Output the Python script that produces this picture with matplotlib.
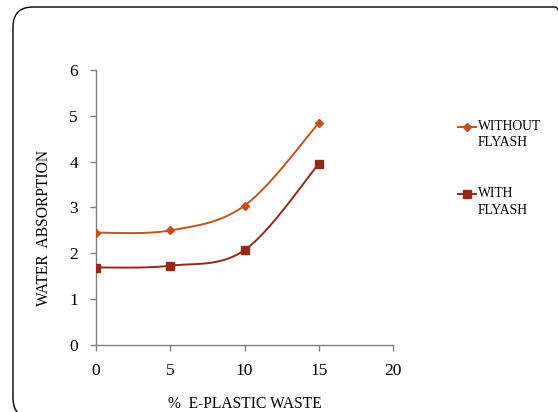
import numpy as np
import matplotlib
matplotlib.use("Agg")
import matplotlib.pyplot as plt
from matplotlib.patches import FancyBboxPatch
from matplotlib.lines import Line2D
from matplotlib.transforms import IdentityTransform

x_vals = [0, 5, 10, 15]
without_flyash = [2.45, 2.50, 3.04, 4.84]
with_flyash = [1.69, 1.73, 2.07, 3.95]
series_names = ["WITHOUT\nFLYASH", "WITH\nFLYASH"]
x_ticks = [0, 5, 10, 15, 20]
y_ticks = [0, 1, 2, 3, 4, 5, 6]

c_without = "#C8501E"
c_with = "#962818"
font = ["Liberation Serif", "DejaVu Serif"]
plt.rcParams['font.family'] = font

W, H = 558, 412


def smooth(xs, ys, n=40):
    xs = np.asarray(xs, float); ys = np.asarray(ys, float)
    P = np.column_stack([xs, ys])
    P = np.vstack([P[0], P, P[-1]])
    out = []
    for i in range(1, len(P) - 2):
        p0, p1, p2, p3 = P[i - 1], P[i], P[i + 1], P[i + 2]
        c1 = p1 + (p2 - p0) / 6.0
        c2 = p2 - (p3 - p1) / 6.0
        t = np.linspace(0, 1, n)[:, None]
        b = ((1 - t) ** 3) * p1 + 3 * ((1 - t) ** 2) * t * c1 + 3 * (1 - t) * t ** 2 * c2 + t ** 3 * p2
        out.append(b)
    arr = np.vstack(out)
    return arr[:, 0], arr[:, 1]


fig = plt.figure(figsize=(W / 100, H / 100), dpi=100)
border = FancyBboxPatch((13, -6), 575 - 13, (H - 7) + 6,
                        boxstyle="round,pad=0,rounding_size=20",
                        transform=IdentityTransform(), fill=False, edgecolor="black",
                        linewidth=1.0, clip_on=False)
fig.patches.append(border)

ax = fig.add_axes([96 / W, (H - 345) / H, 297 / W, 275 / H])
for s in ["top", "right"]:
    ax.spines[s].set_visible(False)
for s in ["left", "bottom"]:
    ax.spines[s].set_color("#808080")
    ax.spines[s].set_linewidth(1.0)

sx, sy = smooth(x_vals, without_flyash)
ax.plot(sx, sy, color=c_without, lw=1.4, zorder=2)
ax.plot(x_vals, without_flyash, linestyle="none", marker="D", ms=4.5, color=c_without, zorder=3)
sx, sy = smooth(x_vals, with_flyash)
ax.plot(sx, sy, color=c_with, lw=1.4, zorder=2)
ax.plot(x_vals, with_flyash, linestyle="none", marker="s", ms=5.5, color=c_with, zorder=3)

ax.set_xlim(0, 20)
ax.set_ylim(0, 6)
ax.set_xticks(x_ticks)
ax.set_yticks(y_ticks)
ax.tick_params(axis="both", direction="out", length=4, color="#808080", labelsize=12.5, width=1.0)
ax.tick_params(axis="x", pad=9)
ax.tick_params(axis="y", pad=9)
ax.set_xlabel("%  E-PLASTIC WASTE", fontsize=11.2, labelpad=12)
ax.set_ylabel("WATER  ABSORPTION", fontsize=11.2)
ax.yaxis.set_label_coords(-0.149, 0.425)

# legend drawn manually in figure pixel coordinates
leg_items = [(c_without, "D", 4.5, 127), (c_with, "s", 5.5, 194)]
for (col, mk, ms, ypix), name in zip(leg_items, series_names):
    yf = (H - ypix) / H
    fig.add_artist(Line2D([458 / W, 476 / W], [yf, yf], color=col, lw=1.4,
                          transform=fig.transFigure))
    fig.add_artist(Line2D([467 / W], [yf], color=col, marker=mk, ms=ms,
                          linestyle="none", transform=fig.transFigure))
    fig.text(478 / W, yf + 7 / H, name, fontsize=9.8, va="top", ha="left",
             linespacing=1.35)

fig.savefig("out.png", dpi=100)
